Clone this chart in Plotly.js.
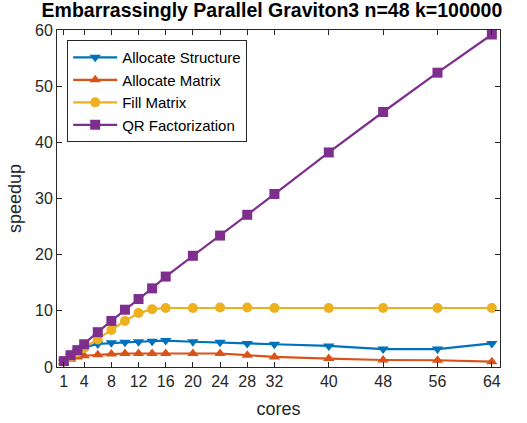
<!DOCTYPE html>
<html>
<head>
<meta charset="utf-8">
<script src="https://cdn.plot.ly/plotly-3.0.1.min.js"></script>
<style>html,body{margin:0;padding:0;background:#fff;}#chart{width:527px;height:423px;}</style>
</head>
<body>
<div id="chart"></div>
<script>
const cores = [1, 2, 3, 4, 6, 8, 10, 12, 14, 16, 20, 24, 28, 32, 40, 48, 56, 64];
const allocStructure = [0.9, 2.0, 2.8, 3.5, 4.1, 4.3, 4.4, 4.5, 4.6, 4.7, 4.5, 4.4, 4.2, 4.05, 3.75, 3.2, 3.2, 4.2];
const allocMatrix = [0.9, 1.4, 1.8, 2.0, 2.2, 2.3, 2.4, 2.4, 2.4, 2.4, 2.4, 2.4, 2.1, 1.8, 1.5, 1.25, 1.2, 0.95];
const fillMatrix = [1.0, 1.8, 2.6, 3.4, 4.9, 6.6, 8.2, 9.6, 10.3, 10.5, 10.5, 10.6, 10.6, 10.5, 10.5, 10.5, 10.5, 10.5];
const qrFact = [1.05, 2.1, 3.0, 4.05, 6.2, 8.2, 10.2, 12.1, 14.0, 16.1, 19.8, 23.4, 27.1, 30.8, 38.2, 45.4, 52.4, 59.2];
const xTicks = [1, 4, 8, 12, 16, 20, 24, 28, 32, 40, 48, 56, 64];
const names = ['Allocate Structure', 'Allocate Matrix', 'Fill Matrix', 'QR Factorization'];
const colors = ['#0072BD', '#D95319', '#EDB120', '#7E2F8E'];
const symbols = ['triangle-down', 'triangle-up', 'circle', 'square'];
const series = [allocStructure, allocMatrix, fillMatrix, qrFact];

const FONT = 'Liberation Sans, Arial, sans-serif';
const traces = series.map((ys, i) => ({
  x: cores, y: ys, name: names[i], type: 'scatter', mode: 'lines+markers',
  line: {color: colors[i], width: 2.2},
  marker: {color: colors[i], symbol: symbols[i], size: 10, line: {width: 0}}
}));

const axisCommon = {
  showline: true, linecolor: '#262626', linewidth: 1, mirror: 'allticks', automargin: false,
  ticks: 'inside', ticklen: 5, tickcolor: '#262626', showgrid: false, zeroline: false,
  tickfont: {family: FONT, size: 16, color: '#262626'}
};

const layout = {
  width: 527, height: 423,
  margin: {l: 57, r: 27, t: 30, b: 56},
  paper_bgcolor: '#fff', plot_bgcolor: '#fff',
  title: {text: '<b>Embarrassingly Parallel Graviton3 n=48 k=100000</b>', x: 0.516, xanchor: 'center',
    yref: 'container', y: 1, yanchor: 'top', pad: {t: 3},
    font: {family: FONT, size: 19.5, color: '#000'}},
  xaxis: Object.assign({}, axisCommon, {range: [0, 65.2], tickmode: 'array', tickvals: xTicks, ticktext: xTicks.map(String),
    title: {text: 'cores', font: {family: FONT, size: 18, color: '#262626'}, standoff: 13}}),
  yaxis: Object.assign({}, axisCommon, {range: [0, 60], tickmode: 'array', tickvals: [0, 10, 20, 30, 40, 50, 60],
    title: {text: 'speedup', font: {family: FONT, size: 18, color: '#262626'}, standoff: 8}}),
  showlegend: true,
  legend: {x: 0.023, y: 0.97, xanchor: 'left', yanchor: 'top', bgcolor: '#fff', bordercolor: '#262626', borderwidth: 1,
    font: {family: FONT, size: 15, color: '#000'}, itemwidth: 44, tracegroupgap: 0}
};

Plotly.newPlot('chart', traces, layout, {staticPlot: true, displayModeBar: false});
</script>
</body>
</html>
